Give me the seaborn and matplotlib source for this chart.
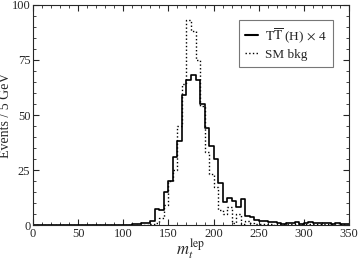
import numpy as np
import pandas as pd
import matplotlib
matplotlib.use("Agg")
import matplotlib.pyplot as plt
import seaborn as sns

# bin contents (5 GeV bins from 0 to 350)
bin_lo = list(range(0, 350, 5))
signal = [0] * 22 + [
    0.3, 0.5, 1, 0.8, 2, 7.5, 7, 15, 20, 31,
    38, 59, 66, 68, 66, 55, 44, 36, 30, 19,
    10.5, 12.5, 11, 8, 12, 4, 3.5, 2.5, 2, 2,
    1.5, 1.5, 1, 0.5, 1, 1, 1.5, 0.5, 1, 1.5,
    1, 0.8, 0.8, 1, 0.5, 1, 0.5, 0.3,
]
bkg = [0] * 26 + [
    0.3, 1, 3, 9, 20, 25, 45, 64, 93, 88,
    75, 54, 33, 23, 17.5, 7, 5, 8, 1, 5,
    0.5, 2, 1, 0.5, 0.5, 0.3, 0.3, 0.2, 0.5, 0.3,
    0.3, 0.5, 0.3, 0.5, 0.3, 0.3, 0.5, 0.3, 0.3, 0.3,
    0.5, 0.2, 0.3, 0.2,
]

df = pd.DataFrame({"center": np.array(bin_lo) + 2.5, "signal": signal, "bkg": bkg})

sns.set_theme(style="ticks")
plt.rcParams["font.family"] = ["Liberation Serif", "DejaVu Serif"]
plt.rcParams["mathtext.fontset"] = "stix"

fig = plt.figure(figsize=(3.59, 2.62), dpi=100)
ax = fig.add_axes([0.092, 0.141, 0.880, 0.840])

sns.histplot(data=df, x="center", weights="signal", binwidth=5, binrange=(0, 350),
             element="step", fill=False, color="black", linewidth=1.2, ax=ax)
sns.histplot(data=df, x="center", weights="bkg", binwidth=5, binrange=(0, 350),
             element="step", fill=False, color="black", linewidth=1.0,
             linestyle=":", ax=ax)

ax.plot([], [], color="black", lw=1.5, label=r"$\mathrm{T}\overline{\mathrm{T}}$ (H)$\,\times\,$4")
ax.plot([], [], color="black", lw=1.0, ls=":", label="SM bkg")
leg = ax.legend(loc="upper right", fontsize=9.5, frameon=True, fancybox=False,
                edgecolor="#555555", handlelength=1.0, handletextpad=0.5,
                borderpad=0.45, labelspacing=0.3,
                bbox_to_anchor=(0.949, 0.932), borderaxespad=0)
leg.get_frame().set_linewidth(0.8)

ax.set_xlim(0, 350)
ax.set_ylim(0, 100)
ax.set_xticks(range(0, 351, 50))
ax.set_yticks(range(0, 101, 25))
ax.set_xticks(range(0, 351, 10), minor=True)
ax.set_yticks(range(0, 101, 5), minor=True)
ax.tick_params(which="both", direction="in", top=True, right=True, labelsize=9, pad=2)
ax.tick_params(which="major", length=4, width=0.8)
ax.tick_params(which="minor", length=2, width=0.6)
for s in ax.spines.values():
    s.set_linewidth(0.8)

ax.set_ylabel("Events / 5 GeV", fontsize=10)
ax.yaxis.set_label_coords(-0.068, 0.5)
ax.set_xlabel(r"$m_t^{\mathrm{lep}}$", fontsize=12, labelpad=-3)

fig.savefig("out.png", dpi=100)
